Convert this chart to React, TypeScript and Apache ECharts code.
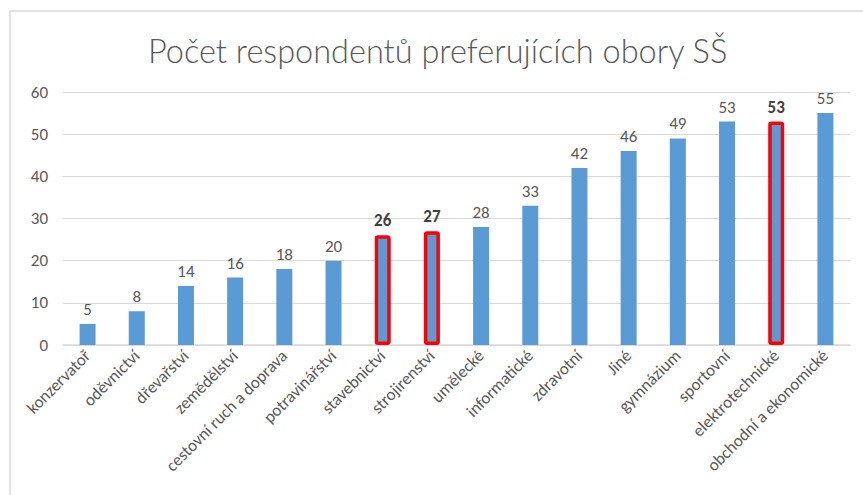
import React, { useEffect, useRef } from "react";
import * as echarts from "echarts";

const categories = [
  "konzervatoř",
  "oděvnictví",
  "dřevařství",
  "zemědělství",
  "cestovní ruch a doprava",
  "potravinářství",
  "stavebnictví",
  "strojirenství",
  "umělecké",
  "informatické",
  "zdravotní",
  "Jiné",
  "gymnázium",
  "sportovní",
  "elektrotechnické",
  "obchodní a ekonomické",
];
const values = [5, 8, 14, 16, 18, 20, 26, 27, 28, 33, 42, 46, 49, 53, 53, 55];
const highlighted = ["stavebnictví", "strojirenství", "elektrotechnické"];
const titleText = "Počet respondentů preferujících obory SŠ";

const FONT = "Carlito, 'Liberation Sans Narrow', 'Open Sans', sans-serif";

export default function App() {
  const ref = useRef<HTMLDivElement>(null);
  useEffect(() => {
    if (!ref.current) return;
    const chart = echarts.init(ref.current, undefined, { renderer: "svg" });
    const data = values.map((v, i) => {
      const hl = highlighted.includes(categories[i]);
      return hl
        ? {
            value: v,
            itemStyle: { color: "#5B9BD5", borderColor: "#FF0000", borderWidth: 3.5, borderRadius: 1.5 },
            label: { fontWeight: "bold", color: "#404040" },
          }
        : { value: v };
    });
    chart.setOption({
      animation: false,
      textStyle: { fontFamily: FONT },
      title: {
        text: titleText,
        left: 143,
        top: 29,
        textStyle: { fontFamily: "Lato, Carlito, sans-serif", fontSize: 32.5, fontWeight: 300, color: "#595959" },
      },
      graphic: [
        {
          type: "rect",
          shape: { x: 10, y: 11, width: 900, height: 520 },
          style: { fill: "none", stroke: "#D9D9D9", lineWidth: 1.5 },
          silent: true,
        },
      ],
      grid: { left: 63, right: 13, top: 92, bottom: 150, containLabel: false },
      xAxis: {
        type: "category",
        data: categories,
        axisLine: { lineStyle: { color: "#D9D9D9", width: 1.5 } },
        axisTick: { show: false },
        axisLabel: {
          interval: 0,
          rotate: 45,
          fontSize: 17,
          color: "#595959",
          fontFamily: FONT,
          margin: 8,
        },
      },
      yAxis: {
        type: "value",
        min: 0,
        max: 60,
        interval: 10,
        axisLine: { show: false },
        axisTick: { show: false },
        splitLine: { lineStyle: { color: "#D9D9D9", width: 1 } },
        axisLabel: { fontSize: 17, color: "#595959", fontFamily: FONT, margin: 15 },
      },
      series: [
        {
          type: "bar",
          data,
          barWidth: 16,
          itemStyle: { color: "#5B9BD5" },
          label: {
            show: true,
            position: "top",
            distance: 6,
            fontSize: 17,
            color: "#595959",
            fontFamily: FONT,
          },
        },
      ],
    });
    return () => chart.dispose();
  }, []);
  return (
    <div
      ref={ref}
      style={{ position: "fixed", left: 0, top: 0, width: 863, height: 495, background: "#fff" }}
    />
  );
}
